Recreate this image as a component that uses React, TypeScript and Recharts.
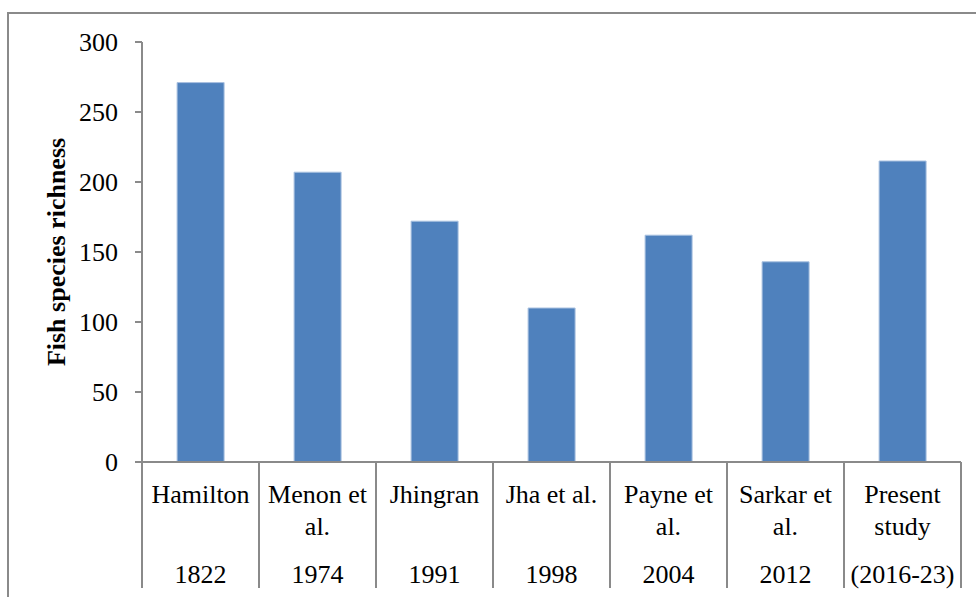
import React from "react";
import { BarChart, Bar, XAxis, YAxis, Label } from "recharts";

// study / author labels (line breaks as in the original)
const authors = [
  "Hamilton",
  "Menon et\nal.",
  "Jhingran",
  "Jha et al.",
  "Payne et\nal.",
  "Sarkar et\nal.",
  "Present\nstudy",
];
const years = ["1822", "1974", "1991", "1998", "2004", "2012", "(2016-23)"];
const richness = [271, 207, 172, 110, 162, 143, 215];
const yTicks = [0, 50, 100, 150, 200, 250, 300];

const data = authors.map((a, i) => ({ key: years[i], author: a, value: richness[i] }));

const FONT = "'Liberation Serif', 'Times New Roman', serif";
const AXIS = "#8a8a8a";

const XTick = (props: any) => {
  const { x, y, index, width, visibleTicksCount } = props;
  const band = width / (visibleTicksCount || authors.length);
  const lines = authors[index].split("\n");
  return (
    <g>
      <line x1={x - band / 2} x2={x - band / 2} y1={y} y2={y + 126} stroke={AXIS} strokeWidth={2} />
      {index === authors.length - 1 && (
        <line x1={x + band / 2} x2={x + band / 2} y1={y} y2={y + 126} stroke={AXIS} strokeWidth={2} />
      )}
      {lines.map((l, i) => (
        <text key={i} x={x} y={y + 41 + i * 32} textAnchor="middle" fontFamily={FONT} fontSize={26} fill="#000">
          {l}
        </text>
      ))}
      <text x={x} y={y + 121} textAnchor="middle" fontFamily={FONT} fontSize={26} fill="#000">
        {years[index]}
      </text>
    </g>
  );
};

export default function App() {
  return (
    <div style={{ position: "absolute", left: 0, top: 0, width: 976, height: 597, background: "#fff" }}>
      <div
        style={{
          position: "absolute",
          left: 7,
          top: 12,
          width: 976,
          height: 597,
          borderTop: `2px solid ${AXIS}`,
          borderLeft: `2px solid ${AXIS}`,
        }}
      />
      <div style={{ position: "absolute", left: 0, top: 0 }}>
        <BarChart
          width={976}
          height={597}
          data={data}
          margin={{ top: 42, right: 15, bottom: 0, left: 0 }}
          barCategoryGap="30%"
        >
          <XAxis
            dataKey="key"
            height={135}
            tickSize={0}
            tickMargin={0}
            tickLine={false}
            axisLine={{ stroke: AXIS, strokeWidth: 2 }}
            tick={<XTick />}
            interval={0}
          />
          <YAxis
            width={142}
            domain={[0, 300]}
            ticks={yTicks}
            tickSize={7}
            tickMargin={17}
            axisLine={{ stroke: AXIS, strokeWidth: 2 }}
            tickLine={{ stroke: AXIS, strokeWidth: 2 }}
            tick={{ fontFamily: FONT, fontSize: 26, fill: "#000" }}
          >
            <Label
              content={({ viewBox }: any) => {
                const cx = viewBox.x + 65;
                const cy = viewBox.y + viewBox.height / 2;
                return (
                  <text
                    x={cx}
                    y={cy}
                    transform={`rotate(-90, ${cx}, ${cy})`}
                    textAnchor="middle"
                    fontFamily={FONT}
                    fontSize={26}
                    fontWeight="bold"
                    fill="#000"
                  >
                    Fish species richness
                  </text>
                );
              }}
            />
          </YAxis>
          <Bar dataKey="value" fill="#4f81bd" stroke="#a9c1e0" strokeWidth={1} isAnimationActive={false} />
        </BarChart>
      </div>
    </div>
  );
}
